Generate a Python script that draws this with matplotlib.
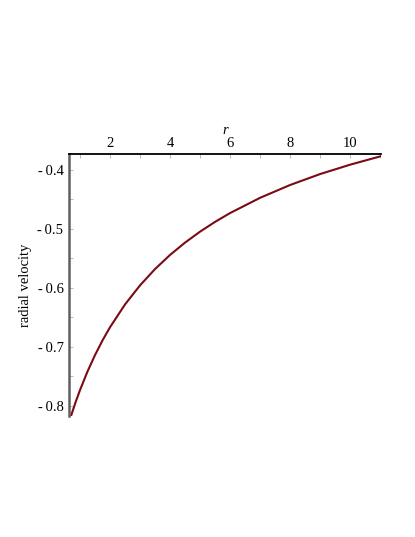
import matplotlib
matplotlib.use("Agg")
import matplotlib.pyplot as plt
from matplotlib.ticker import MultipleLocator, FuncFormatter

# Values
r_values = [0.7, 0.85, 1.0, 1.25, 1.5, 1.75, 2.0, 2.5, 3.0, 3.5, 4.0, 4.5,
            5.0, 5.5, 6.0, 7.0, 8.0, 9.0, 10.0, 11.0]
velocity = [-0.8169, -0.7940, -0.7731, -0.7416, -0.7138, -0.6890, -0.6667, -0.6281,
            -0.5958, -0.5682, -0.5443, -0.5234, -0.5049, -0.4883, -0.4734, -0.4476,
            -0.4259, -0.4074, -0.3915, -0.3775]
x_ticks = [2, 4, 6, 8, 10]
y_ticks = [-0.8, -0.7, -0.6, -0.5, -0.4]

plt.rcParams['font.family'] = ['Liberation Serif', 'DejaVu Serif']
plt.rcParams['axes.unicode_minus'] = False

fig = plt.figure(figsize=(4.15, 5.37), dpi=100)
ax = fig.add_axes([69/415, 1-416/537, (381-69)/415, (416-154)/537])

ax.plot(r_values, velocity, color='#7a0a14', lw=1.5)

ax.set_xlim(0.633, 11.03)
ax.set_ylim(-0.817, -0.3734)

for s in ['right', 'bottom']:
    ax.spines[s].set_visible(False)
ax.spines['top'].set_color('black')
ax.spines['top'].set_linewidth(1.3)
ax.spines['left'].set_color('#606060')
ax.spines['left'].set_linewidth(1.8)

ax.xaxis.tick_top()
ax.xaxis.set_label_position('top')
ax.set_xticks(x_ticks)
ax.xaxis.set_minor_locator(MultipleLocator(1))
ax.set_yticks(y_ticks)
ax.yaxis.set_minor_locator(MultipleLocator(0.05))
ax.yaxis.set_major_formatter(FuncFormatter(lambda v, p: '-\u2009' + f'{abs(v):.1f}' if v < 0 else f'{v:.1f}'))

ax.tick_params(axis='both', which='both', direction='in', color='#b0b0b0',
               length=3, width=0.6, labelsize=10.5)
ax.tick_params(axis='x', which='both', top=True, bottom=False, pad=3)
ax.tick_params(axis='y', pad=4)

ax.set_xlabel('r', fontstyle='italic', fontsize=10.5, labelpad=2)
ax.set_ylabel('radial velocity', fontsize=10.5, labelpad=4)

fig.savefig('out.png', dpi=100)
